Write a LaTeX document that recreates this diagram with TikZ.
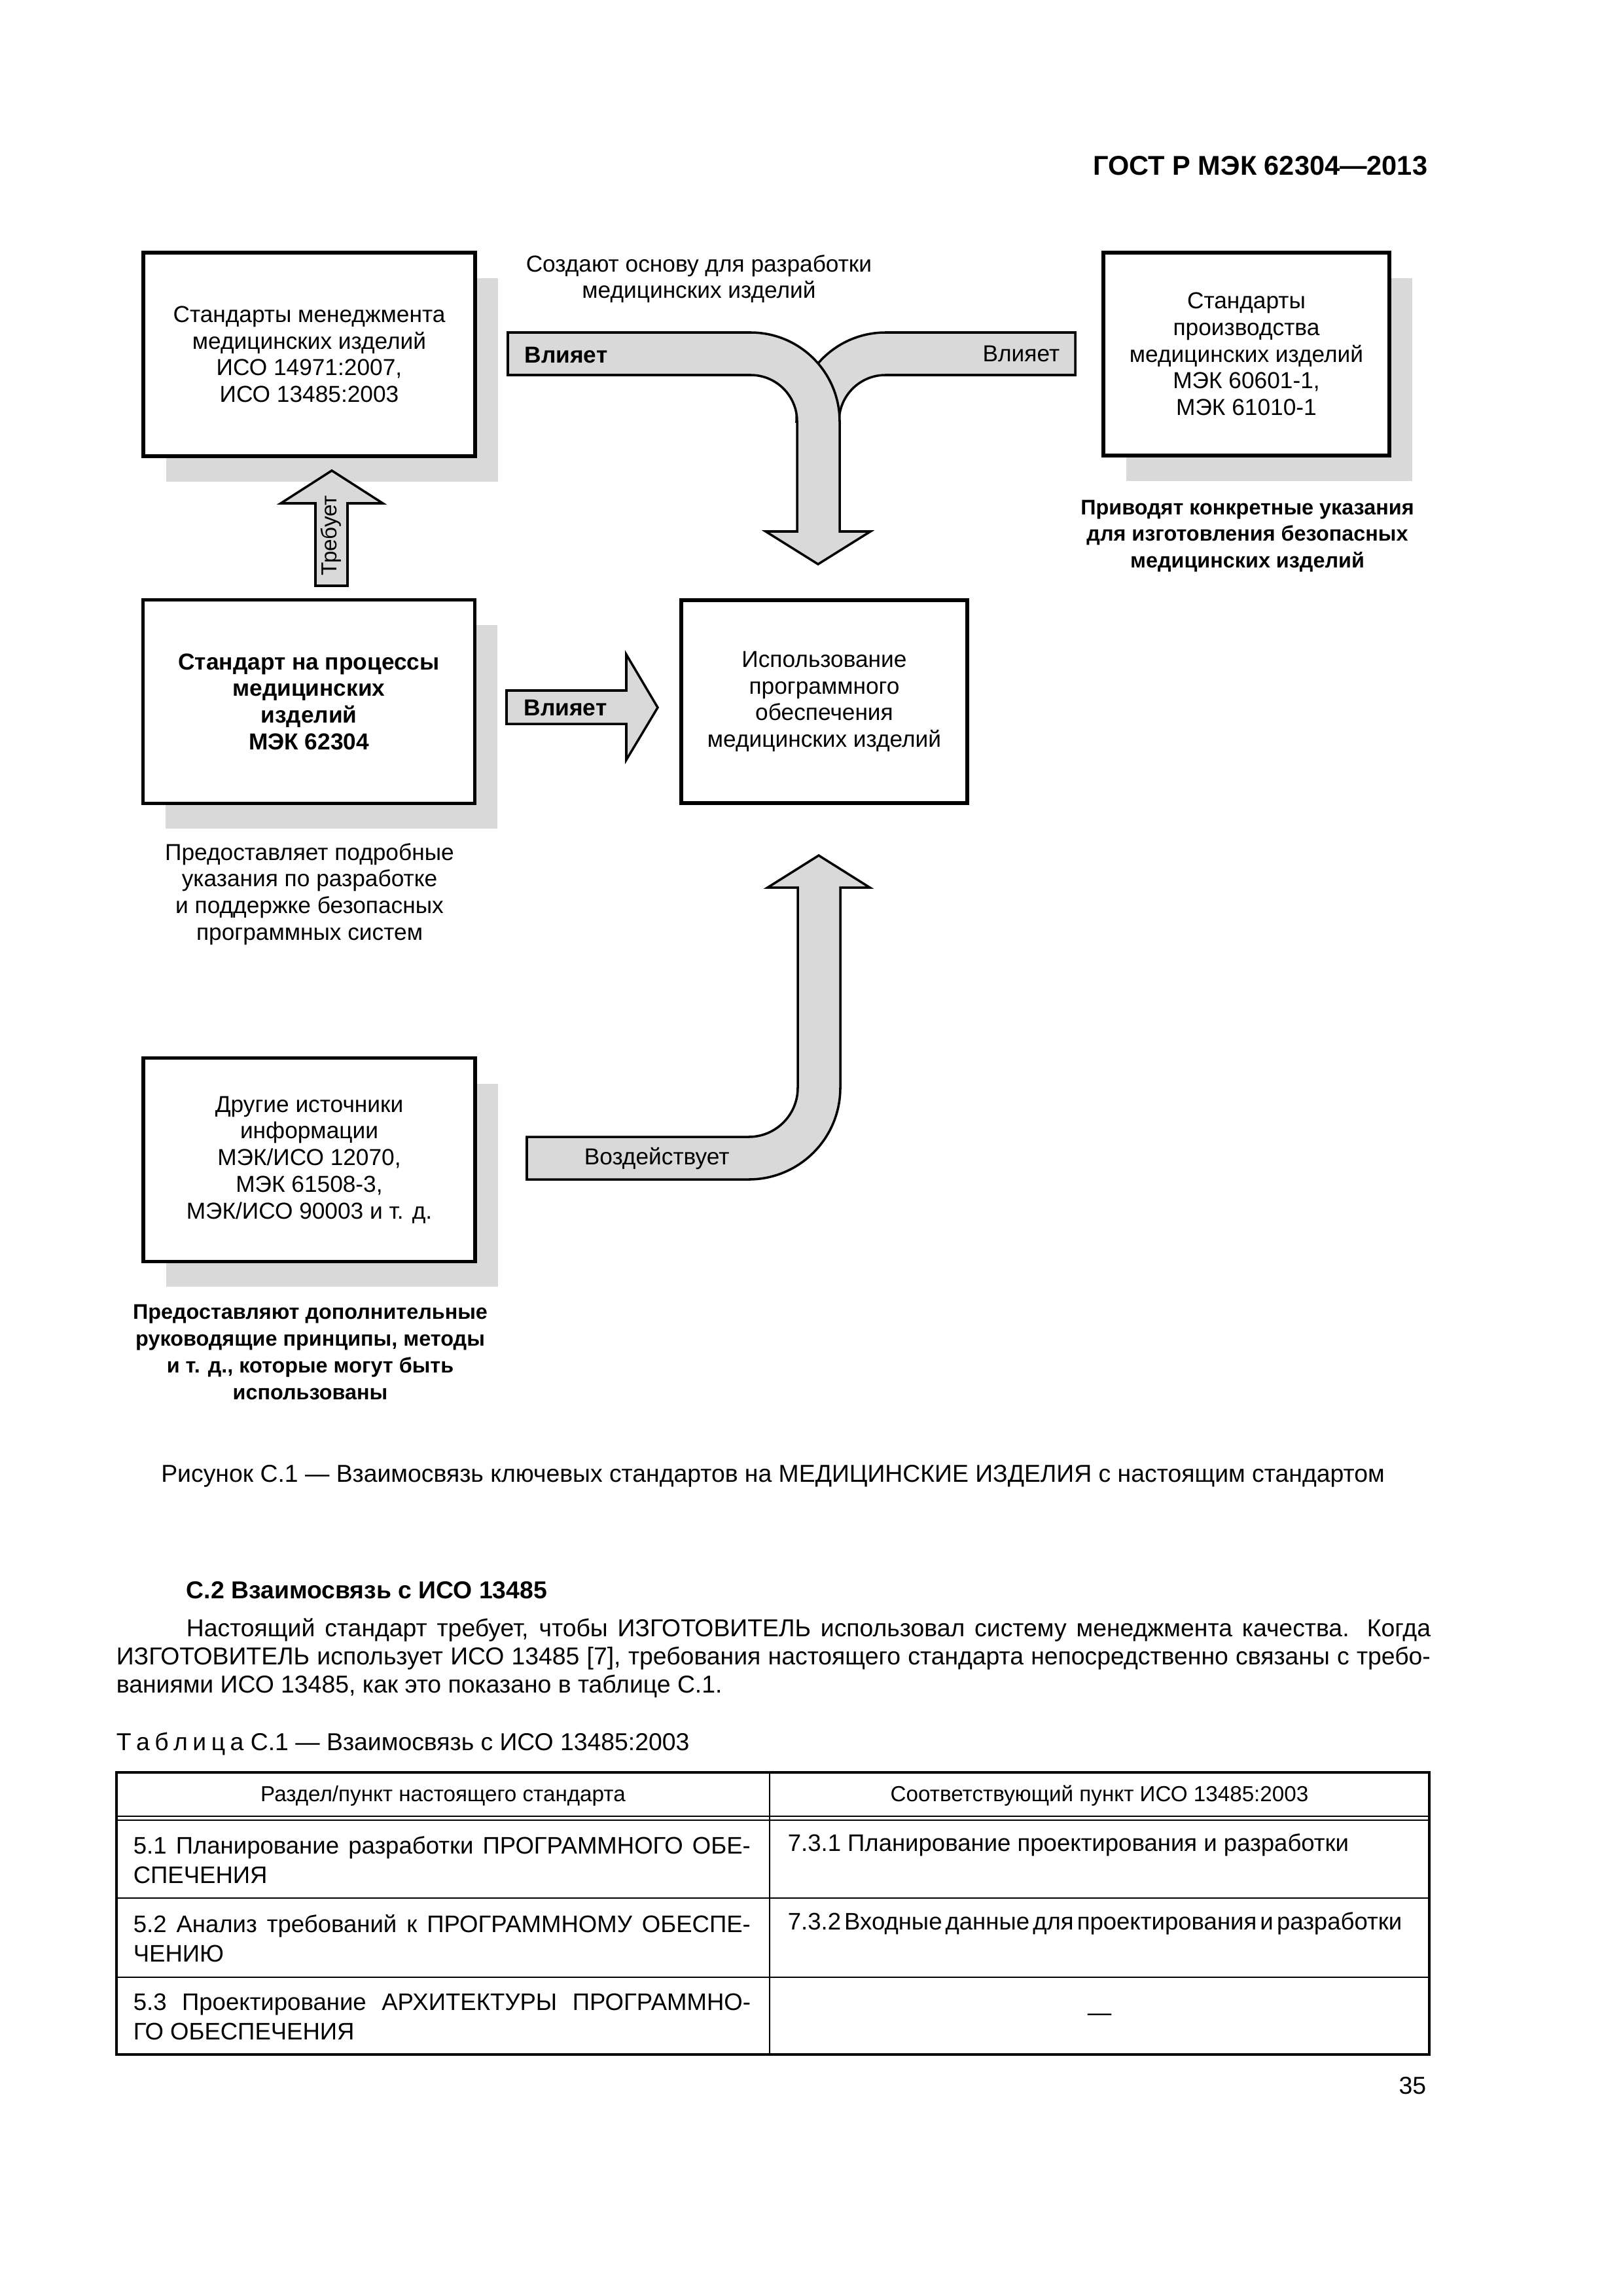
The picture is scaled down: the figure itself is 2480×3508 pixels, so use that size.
\documentclass[tikz,border=0pt]{standalone}
\usepackage{fontspec}
\setmainfont{Liberation Sans}
\usetikzlibrary{shadows}
\definecolor{shadowgray}{gray}{0.85}
\definecolor{arrowgray}{gray}{0.85}
\newcommand{\diagfont}{\fontsize{8.5}{9.8}\selectfont}
\newcommand{\notefont}{\fontsize{7.8}{9.8}\selectfont\bfseries}
\newcommand{\bodyfont}{\fontsize{9}{10.4}\selectfont}
\newcommand{\cellfont}{\fontsize{8.8}{10.8}\selectfont}
\tikzset{
  stdbox/.style={draw, line width=1.4pt, fill=white, inner sep=0pt, align=center, font=\diagfont},
  shadowed/.style={drop shadow={shadow xshift=2.96mm, shadow yshift=-3.3mm, fill=shadowgray, opacity=1}},
  widebox/.style={stdbox, shadowed, minimum width=42.93mm, minimum height=26.33mm},
  narrowbox/.style={stdbox, minimum width=37mm, minimum height=26.25mm},
  blockarrow/.style={draw, fill=arrowgray, line width=0.85pt},
  lbl/.style={inner sep=0pt, align=center, font=\diagfont},
  note/.style={inner sep=0pt, align=center, font=\notefont},
  cell/.style={anchor=north west, inner sep=0pt, text width=79.85mm, align=justify, font=\cellfont},
  frame/.style={line width=1.1pt},
  rule/.style={line width=0.6pt},
}
\begin{document}
\begin{tikzpicture}[x=0.084677mm, y=-0.084677mm]
\useasboundingbox[fill=white] (0,0) rectangle (2480,3508);

\node[anchor=east, inner sep=0pt, font=\fontsize{10}{12}\selectfont\bfseries] (gost) at (2182,253) {ГОСТ Р МЭК 62304—2013};

\node[widebox] (mgmt) at (472.5,541.5) {Стандарты менеджмента\\медицинских изделий\\ИСО 14971:2007,\\ИСО 13485:2003};
\node[widebox, font=\diagfont\bfseries] (proc) at (472,1072) {Стандарт на процессы\\медицинских\\изделий\\МЭК 62304};
\node[widebox] (other) at (472.5,1772) {Другие источники\\информации\\МЭК/ИСО 12070,\\МЭК 61508-3,\\МЭК/ИСО 90003 и т. д.};
\node[narrowbox, shadowed] (prod) at (1904.5,541) {Стандарты\\производства\\медицинских изделий\\МЭК 60601-1,\\МЭК 61010-1};
\node[narrowbox] (use) at (1259.5,1072) {Использование\\программного\\обеспечения\\медицинских изделий};

\draw[blockarrow] (1643,508) -- (1353,508) arc (270:180:136) -- (1282,644) arc (180:270:71) -- (1643,573) -- cycle;
\draw[blockarrow] (776,508) -- (1147,508) arc (270:360:136) -- (1283,812) -- (1330,812) -- (1250,862) -- (1170,812) -- (1218,812) -- (1218,644) arc (0:-90:71) -- (776,573) -- cycle;
\draw[blockarrow] (482,895) -- (482,769) -- (429,769) -- (507,719) -- (585,769) -- (531,769) -- (531,895) -- cycle;
\draw[blockarrow] (774,1055) -- (957,1055) -- (957,1000) -- (1005,1081) -- (957,1161) -- (957,1106) -- (774,1106) -- cycle;
\draw[blockarrow] (805,1737) -- (1144,1737) arc (90:0:75) -- (1219,1356) -- (1173,1356) -- (1251,1307) -- (1329,1356) -- (1284,1356) -- (1284,1662) arc (0:90:140) -- (805,1802) -- cycle;

\node[lbl] (basis) at (1068,426) {Создают основу для разработки\\медицинских изделий};
\node[lbl, anchor=west, font=\diagfont\bfseries] (inflA) at (801,543) {Влияет};
\node[lbl, anchor=east] (inflB) at (1620,541) {Влияет};
\node[lbl, anchor=west, font=\diagfont\bfseries] (inflC) at (800,1082) {Влияет};
\node[lbl, anchor=west] (impact) at (892,1770) {Воздействует};
\node[lbl, rotate=90, font=\fontsize{8}{9.6}\selectfont] (req) at (506,818) {Требует};
\node[note] (prodnote) at (1906,819) {Приводят конкретные указания\\для изготовления безопасных\\медицинских изделий};
\node[lbl] (procnote) at (473,1366) {Предоставляет подробные\\указания по разработке\\и поддержке безопасных\\программных систем};
\node[note] (othernote) at (474,2066) {Предоставляют дополнительные\\руководящие принципы, методы\\и т. д., которые могут быть\\использованы};

\node[inner sep=0pt, font=\bodyfont] (fig) at (1181,2255) {Рисунок С.1 — Взаимосвязь ключевых стандартов на МЕДИЦИНСКИЕ ИЗДЕЛИЯ с настоящим стандартом};
\node[anchor=west, inner sep=0pt, font=\bodyfont\bfseries] (sect) at (284,2430) {С.2 Взаимосвязь с ИСО 13485};
\node[anchor=north west, inner sep=0pt, text width=170.03mm, align=justify, font=\bodyfont] (para) at (177,2472) {\hspace*{9.06mm}Настоящий стандарт требует, чтобы ИЗГОТОВИТЕЛЬ использовал систему менеджмента качества. Когда\linebreak ИЗГОТОВИТЕЛЬ использует ИСО 13485 [7], требования настоящего стандарта непосредственно связаны с требо-\linebreak ваниями ИСО 13485, как это показано в таблице С.1.};
\node[anchor=west, inner sep=0pt, font=\bodyfont] (tabcap) at (177,2664) {Т\kern.2em а\kern.2em б\kern.2em л\kern.2em и\kern.2em ц\kern.2em а С.1 — Взаимосвязь с ИСО 13485:2003};

\draw[frame] (178,2708) rectangle (2184,3139);
\draw[rule] (1176,2708) -- (1176,3139);
\draw[rule] (178,2775) -- (2184,2775);
\draw[rule] (178,2781) -- (2184,2781);
\draw[rule] (178,2900) -- (2184,2900);
\draw[rule] (178,3021) -- (2184,3021);

\node[inner sep=0pt, font=\fontsize{8}{9.6}\selectfont] (colA) at (677,2744) {Раздел/пункт настоящего стандарта};
\node[inner sep=0pt, font=\fontsize{8}{9.6}\selectfont] (colB) at (1680,2744) {Соответствующий пункт ИСО 13485:2003};
\node[cell] (rowA) at (203,2805) {5.1 Планирование разработки ПРОГРАММНОГО ОБЕ-\linebreak СПЕЧЕНИЯ};
\node[cell] (rowB) at (203,2925) {5.2 Анализ требований к ПРОГРАММНОМУ ОБЕСПЕ-\linebreak ЧЕНИЮ};
\node[cell] (rowC) at (203,3045) {5.3 Проектирование АРХИТЕКТУРЫ ПРОГРАММНО-\linebreak ГО ОБЕСПЕЧЕНИЯ};
\node[anchor=west, inner sep=0pt, font=\cellfont] (matchA) at (1203,2819) {7.3.1 Планирование проектирования и разработки};
\node[anchor=west, inner sep=0pt, font=\cellfont] (matchB) at (1203,2939) {\spaceskip=.14em\relax 7.3.2 Входные данные для проектирования и разработки};
\node[inner sep=0pt, font=\cellfont] (matchC) at (1680,3082) {—};

\node[anchor=east, inner sep=0pt, font=\bodyfont] (page) at (2180,3187) {35};
\end{tikzpicture}
\end{document}
